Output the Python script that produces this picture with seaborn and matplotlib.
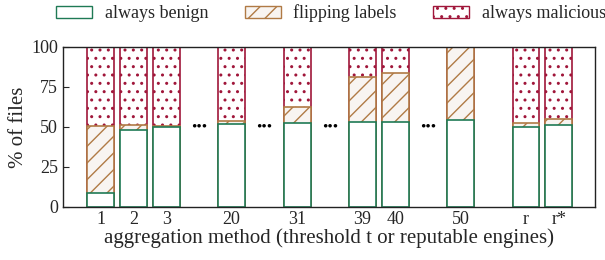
import numpy as np
import pandas as pd
import matplotlib
matplotlib.use("Agg")
import matplotlib.pyplot as plt
import matplotlib.patches as mpatches
import seaborn as sns

# ── Data ────────────────────────────────────────────────────────────────────────
methods   = ["1", "2", "3", "20", "31", "39", "40", "50", "r", "r*"]
benign    = [8.5, 48.0, 49.8, 51.8, 52.6, 52.8, 52.8, 54.3, 50.1, 51.2]
flipping  = [42.0, 3.0, 1.0, 1.7, 10.0, 28.1, 30.6, 45.3, 2.1, 3.9]
malicious = [49.5, 49.0, 49.2, 46.5, 37.4, 19.1, 16.6, 0.4, 47.8, 44.9]

# slot order along the x axis, gaps marked with None ("•••"), "" = empty slot
slots = ["1", "2", "3", None, "20", None, "31", None, "39", "40", None, "50", "", "r", "r*"]

# ── Style ──────────────────────────────────────────────────────────────────────
BENIGN_COL = "#1f7a55"
FLIP_COL   = "#b07a45"
FLIP_FILL  = "#f8f4f1"
MAL_COL    = "#a0163a"

sns.set_style("ticks")
plt.rcParams.update({
    "font.family": ["Liberation Serif", "DejaVu Serif"],
    "font.size": 13,
    "hatch.linewidth": 1.0,
})

order = [s if s is not None else f"gap{i}" for i, s in enumerate(slots)]
df = pd.DataFrame({"method": methods, "benign": benign,
                   "flipping": flipping, "malicious": malicious})
df["b_top"] = df["benign"]
df["f_top"] = df["benign"] + df["flipping"]
df["m_top"] = df["f_top"] + df["malicious"]

fig, ax = plt.subplots(figsize=(6.05, 2.6), dpi=100)
fig.subplots_adjust(left=0.104, right=0.983, top=0.820, bottom=0.204)

# overlapping cumulative bars give the stacked look
common = dict(data=df, x="method", order=order, width=0.82, saturation=1,
              linewidth=1.2, ax=ax, errorbar=None)
sns.barplot(y="m_top", color="white", edgecolor=MAL_COL, hatch="..", **common)
sns.barplot(y="f_top", color=FLIP_FILL, edgecolor=FLIP_COL, hatch="//", **common)
sns.barplot(y="b_top", color="white", edgecolor=BENIGN_COL, **common)

for i, s in enumerate(slots):
    if s is None:
        ax.text(i, 50, "•••", ha="center", va="center", fontsize=11, color="black")

ax.set_xticks(range(len(slots)))
ax.set_xticklabels([s if s else "" for s in slots])
ax.tick_params(axis="x", length=0, pad=3)
ax.tick_params(axis="y", direction="in", length=4)
ax.set_xlim(-1.16, 15.1)
ax.set_ylim(0, 100)
ax.set_yticks([0, 25, 50, 75, 100])
ax.set_xlabel("aggregation method (threshold t or reputable engines)", fontsize=15, labelpad=0)
ax.set_ylabel("% of files", fontsize=15, labelpad=2)
for sp in ax.spines.values():
    sp.set_visible(True)
    sp.set_color("#222222")
    sp.set_linewidth(1.0)

handles = [
    mpatches.Patch(facecolor="white", edgecolor=BENIGN_COL, label="always benign"),
    mpatches.Patch(facecolor=FLIP_FILL, edgecolor=FLIP_COL, hatch="//", label="flipping labels"),
    mpatches.Patch(facecolor="white", edgecolor=MAL_COL, hatch="..", label="always malicious"),
]
fig.legend(handles=handles, loc="center left", bbox_to_anchor=(0.066, 0.95), ncol=3,
           frameon=False, handlelength=2.0, handleheight=0.65, handletextpad=0.7,
           columnspacing=2.0, fontsize=13)

plt.savefig("out.png", dpi=100)
